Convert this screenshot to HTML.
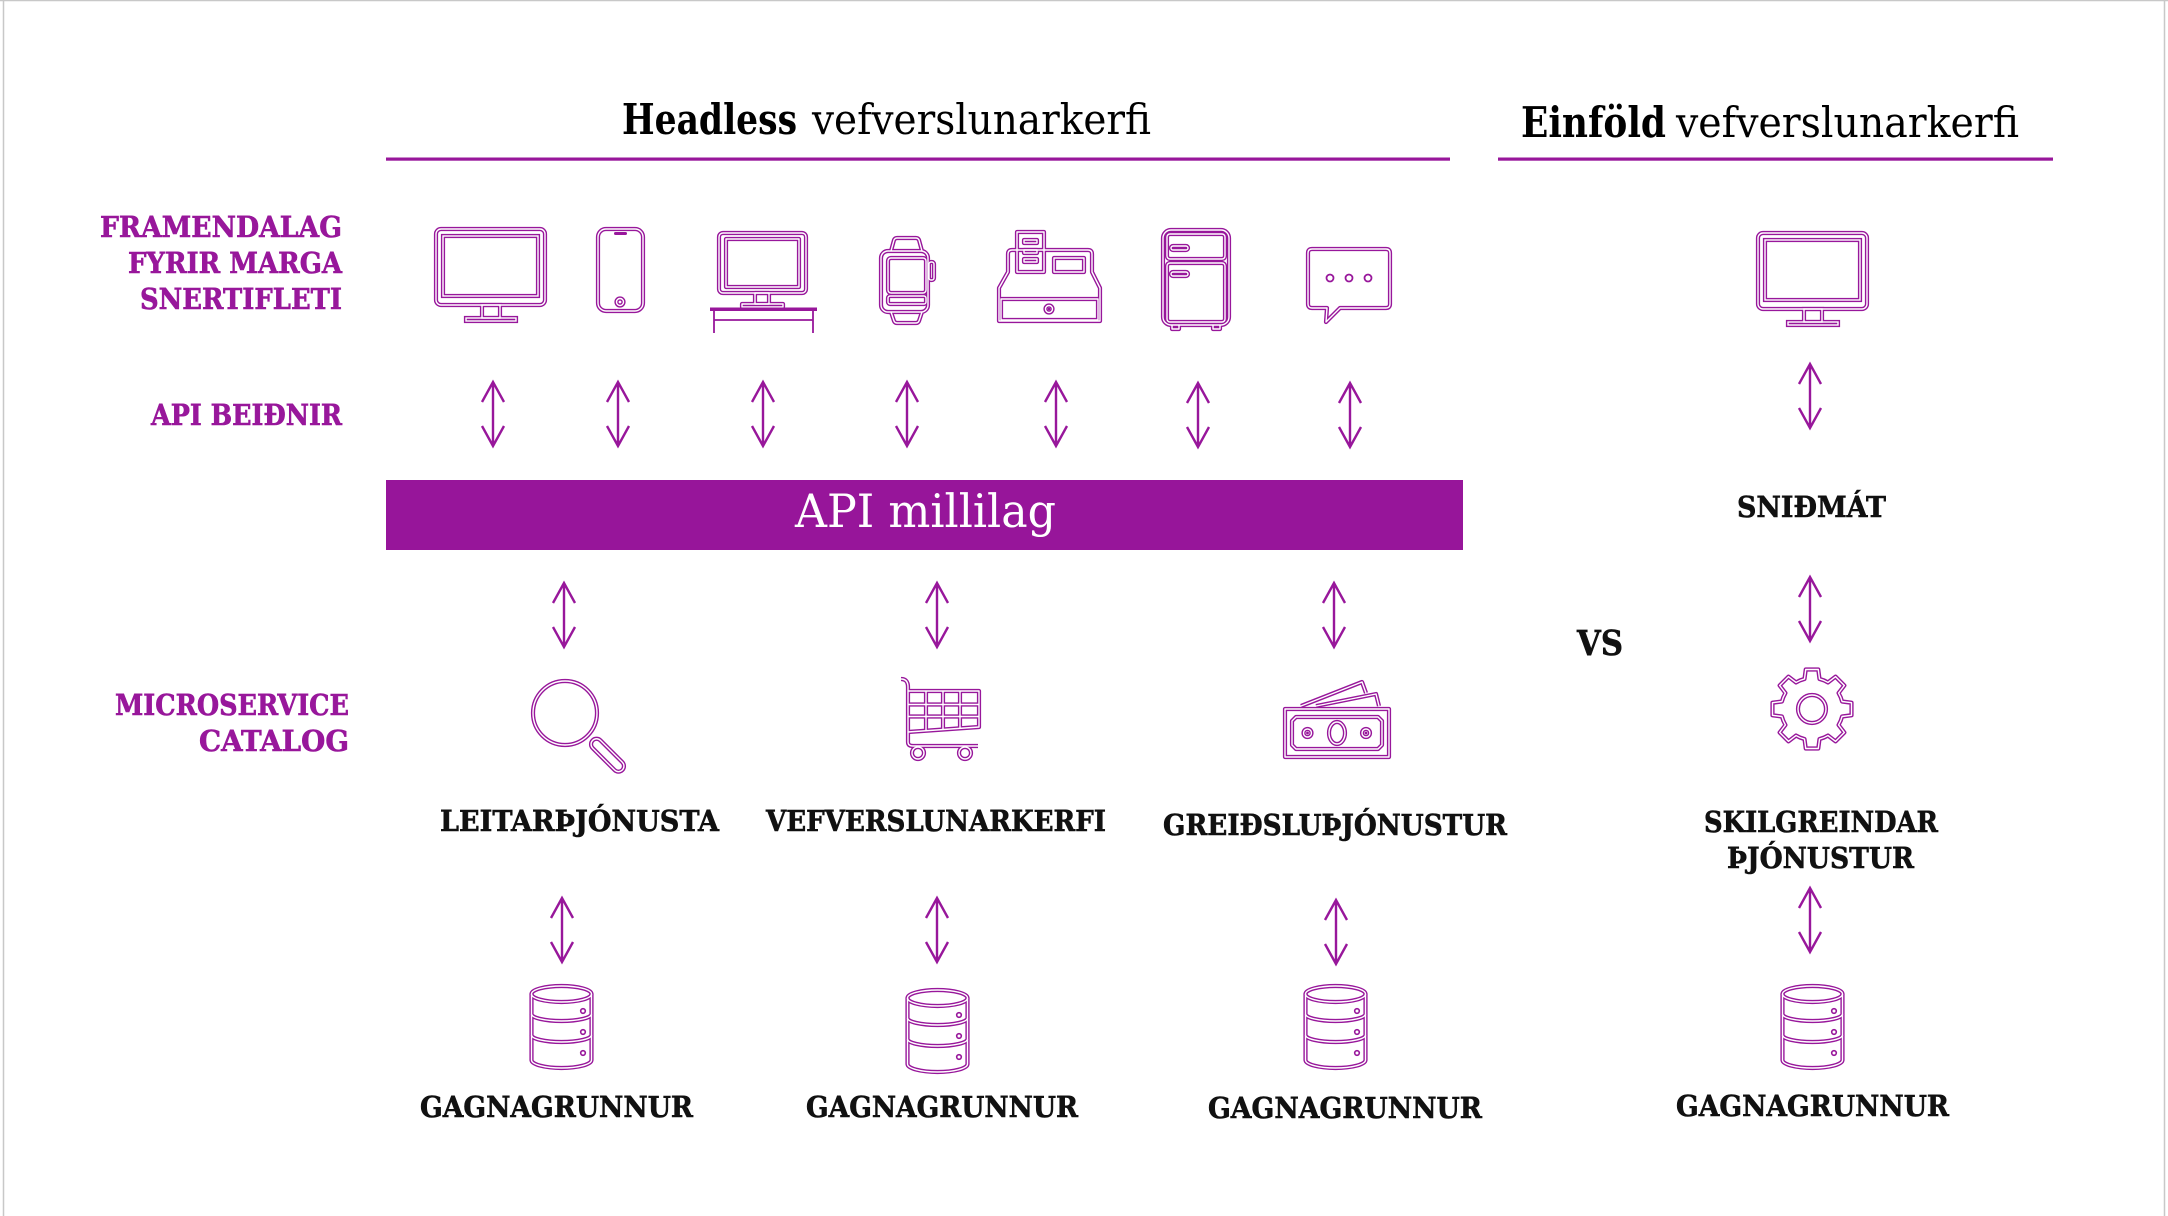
<!DOCTYPE html>
<html>
<head>
<meta charset="utf-8">
<style>
html,body{margin:0;padding:0;background:#fff;}
svg{display:block;}
.lbl{font-family:"DejaVu Serif","Liberation Serif",serif;font-weight:bold;}
.p{fill:#98179b;stroke:#98179b;stroke-width:0.6;}
.k{fill:#111;stroke:#111;stroke-width:0.6;}
</style>
</head>
<body>
<svg width="2168" height="1216" viewBox="0 0 2168 1216" xmlns="http://www.w3.org/2000/svg">
<defs>
  <g id="mon" fill="none">
    <rect x="2" y="2" width="109" height="76" rx="5"/>
    <rect x="9" y="9" width="95" height="60"/>
    <rect x="48" y="78" width="18" height="13"/>
    <rect x="32" y="91" width="50" height="3"/>
  </g>
  <g id="db" fill="none">
    <ellipse cx="31.5" cy="9" rx="30" ry="8"/>
    <path d="M1.5 9 L1.5 75 A30 8 0 0 0 61.5 75 L61.5 9"/>
    <path d="M1.5 29 A30 7 0 0 0 61.5 29"/>
    <path d="M1.5 50 A30 7 0 0 0 61.5 50"/>
  </g>
  <g id="icons1" fill="none">
    <rect x="598" y="229" width="45" height="82" rx="8"/>
    <circle cx="620" cy="302" r="3.5"/>
    <rect x="719" y="233" width="87" height="60" rx="4"/>
    <rect x="726" y="239" width="73" height="48"/>
    <rect x="755" y="293" width="14" height="11"/>
    <rect x="742" y="304" width="41" height="3"/>
    <rect x="881" y="251" width="47" height="61" rx="7"/>
    <rect x="888" y="258" width="38" height="35" rx="3"/>
    <rect x="888" y="296" width="38" height="8" rx="2"/>
    <path d="M891 251 L894 240 Q895 238 897 238 L916 238 Q918 238 919 240 L922 251"/>
    <path d="M891 312 L894 321 Q895 323 897 323 L916 323 Q918 323 919 321 L922 312"/>
    <rect x="929" y="262" width="5" height="18" rx="2"/>
    <path d="M999 321 L999 288 L1008 272 L1008 254 Q1008 250 1012 250 L1088 250 Q1092 250 1092 254 L1092 272 L1100 288 L1100 321 Z"/>
    <rect x="1001" y="299" width="97" height="21"/>
    <rect x="1017" y="232" width="27" height="40"/>
    <rect x="1024" y="240" width="13" height="3"/>
    <rect x="1024" y="250" width="13" height="3"/>
    <rect x="1024" y="259" width="13" height="3"/>
    <rect x="1054" y="258" width="30" height="14"/>
    <circle cx="1049" cy="309" r="3.5"/>
    <rect x="1163" y="230" width="66" height="95" rx="8"/>
    <rect x="1167" y="234" width="58" height="25" rx="3"/>
    <rect x="1167" y="263" width="58" height="59" rx="3"/>
    <rect x="1171" y="246" width="17" height="4" rx="2"/>
    <rect x="1171" y="272" width="17" height="4" rx="2"/>
    <path d="M1172 325 L1172 329 L1179 329 L1179 325"/>
    <path d="M1213 325 L1213 329 L1220 329 L1220 325"/>
    <path d="M1312 249 L1386 249 Q1390 249 1390 253 L1390 304 Q1390 308 1386 308 L1340 308 L1326 322 L1327 308 L1312 308 Q1308 308 1308 304 L1308 253 Q1308 249 1312 249 Z"/>
    <circle cx="565" cy="713" r="32"/>
    <rect x="587" y="749.5" width="42" height="11" rx="5.5" transform="rotate(45 607.5 754.5)"/>
    <path d="M901 679 Q908 679 908 687 L908 742 Q908 746 913 746 L978 746"/>
    <path d="M908 691 L979 691 L979 727 L908 732"/>
    <path d="M926 691 L926 731 M943 691 L943 730 M960 691 L960 729 M908 704.5 L979 704.5 M908 716.5 L979 716.5"/>
    <circle cx="918" cy="753" r="6"/>
    <circle cx="965" cy="753" r="6"/>
    <rect x="1285" y="709" width="104" height="48"/>
    <path d="M1296 717 L1378 717 L1382 721 L1382 745 L1378 749 L1296 749 L1292 745 L1292 721 Z"/>
    <ellipse cx="1337" cy="733" rx="8" ry="11"/>
    <circle cx="1307.5" cy="733" r="4"/>
    <circle cx="1366" cy="733" r="4"/>
    <path d="M1301 706 L1362 682 L1366 693"/>
    <path d="M1316 706 L1376 694 L1379 706"/>
    <path d="M1804.5 678.92 L1805.74 669.49 L1818.26 669.49 L1819.5 678.92 A31 31 0 0 1 1827.97 682.43 L1835.51 676.64 L1844.36 685.49 L1838.57 693.03 A31 31 0 0 1 1842.08 701.5 L1851.51 702.74 L1851.51 715.26 L1842.08 716.5 A31 31 0 0 1 1838.57 724.97 L1844.36 732.51 L1835.51 741.36 L1827.97 735.57 A31 31 0 0 1 1819.5 739.08 L1818.26 748.51 L1805.74 748.51 L1804.5 739.08 A31 31 0 0 1 1796.03 735.57 L1788.49 741.36 L1779.64 732.51 L1785.43 724.97 A31 31 0 0 1 1781.92 716.5 L1772.49 715.26 L1772.49 702.74 L1781.92 701.5 A31 31 0 0 1 1785.43 693.03 L1779.64 685.49 L1788.49 676.64 L1796.03 682.43 A31 31 0 0 1 1804.5 678.92 Z"/>
    <circle cx="1812" cy="709" r="14"/>
  </g>
  <g id="arr" fill="none">
    <path d="M0 0 L0 64 M-11 20 L0 0 L11 20 M-11 44 L0 64 L11 44"/>
  </g>
</defs>

<line x1="0" y1="0.5" x2="2168" y2="0.5" stroke="#c8c8c8" stroke-width="1.5"/>
<line x1="3.5" y1="0" x2="3.5" y2="1216" stroke="#c8c8c8" stroke-width="1.5"/>
<line x1="2164.5" y1="0" x2="2164.5" y2="1216" stroke="#c8c8c8" stroke-width="1.5"/>

<text x="622" y="134" font-family="DejaVu Serif, Liberation Serif, serif" font-weight="bold" font-size="42" fill="#000" textLength="175" lengthAdjust="spacingAndGlyphs">Headless</text>
<text x="812" y="134" font-family="DejaVu Serif, Liberation Serif, serif" font-size="42" fill="#000" textLength="339" lengthAdjust="spacingAndGlyphs">vefverslunarkerfi</text>
<text x="1521" y="137" font-family="DejaVu Serif, Liberation Serif, serif" font-weight="bold" font-size="42" fill="#000" textLength="145" lengthAdjust="spacingAndGlyphs">Einföld</text>
<text x="1676" y="137" font-family="DejaVu Serif, Liberation Serif, serif" font-size="42" fill="#000" textLength="343" lengthAdjust="spacingAndGlyphs">vefverslunarkerfi</text>

<rect x="386" y="157.5" width="1064" height="3.2" fill="#98179b"/>
<rect x="1498" y="157.5" width="555" height="3.2" fill="#98179b"/>

<g class="lbl p" font-size="29">
  <text x="100" y="237" textLength="242" lengthAdjust="spacingAndGlyphs">FRAMENDALAG</text>
  <text x="128" y="273" textLength="214" lengthAdjust="spacingAndGlyphs">FYRIR MARGA</text>
  <text x="140" y="309" textLength="202" lengthAdjust="spacingAndGlyphs">SNERTIFLETI</text>
  <text x="151" y="425" textLength="191" lengthAdjust="spacingAndGlyphs">API BEIÐNIR</text>
  <text x="115" y="715" textLength="234" lengthAdjust="spacingAndGlyphs">MICROSERVICE</text>
  <text x="199" y="751" textLength="150" lengthAdjust="spacingAndGlyphs">CATALOG</text>
</g>

<rect x="386" y="480" width="1077" height="70" fill="#97159a"/>
<text x="795" y="527" font-family="DejaVu Serif, Liberation Serif, serif" font-size="46" fill="#fff" textLength="261" lengthAdjust="spacingAndGlyphs">API millilag</text>

<use href="#mon" transform="translate(434,227)" stroke="#98179b" stroke-width="4.2"/>
<use href="#mon" transform="translate(434,227)" stroke="#fff" stroke-width="1.4"/>
<use href="#mon" transform="translate(1756,231)" stroke="#98179b" stroke-width="4.2"/>
<use href="#mon" transform="translate(1756,231)" stroke="#fff" stroke-width="1.4"/>
<use href="#icons1" stroke="#98179b" stroke-width="4.2" stroke-linejoin="round"/>
<use href="#icons1" stroke="#fff" stroke-width="1.4" stroke-linejoin="round"/>

<g fill="#98179b">
  <rect x="614" y="232" width="13" height="3" rx="1.5"/>
  <rect x="710" y="307.5" width="107" height="3.5"/>
  <circle cx="1049" cy="309" r="1.3"/>
  <circle cx="1307.5" cy="733" r="1.4"/>
  <circle cx="1366" cy="733" r="1.4"/>
</g>
<g fill="none" stroke="#98179b" stroke-width="1.8">
  <path d="M714 311 L714 333 M813 311 L813 333 M714 320 L813 320"/>
  <circle cx="1330" cy="278" r="3.5"/>
  <circle cx="1349" cy="278" r="3.5"/>
  <circle cx="1368" cy="278" r="3.5"/>
</g>

<use href="#db" transform="translate(530,985)" stroke="#98179b" stroke-width="4.2"/>
<use href="#db" transform="translate(530,985)" stroke="#fff" stroke-width="1.4"/>
<use href="#db" transform="translate(906,989)" stroke="#98179b" stroke-width="4.2"/>
<use href="#db" transform="translate(906,989)" stroke="#fff" stroke-width="1.4"/>
<use href="#db" transform="translate(1304,985)" stroke="#98179b" stroke-width="4.2"/>
<use href="#db" transform="translate(1304,985)" stroke="#fff" stroke-width="1.4"/>
<use href="#db" transform="translate(1781,985)" stroke="#98179b" stroke-width="4.2"/>
<use href="#db" transform="translate(1781,985)" stroke="#fff" stroke-width="1.4"/>
<g fill="none" stroke="#98179b" stroke-width="1.6">
  <circle cx="583" cy="1011" r="2.3"/><circle cx="583" cy="1032" r="2.3"/><circle cx="583" cy="1053" r="2.3"/>
  <circle cx="959" cy="1015" r="2.3"/><circle cx="959" cy="1036" r="2.3"/><circle cx="959" cy="1057" r="2.3"/>
  <circle cx="1357" cy="1011" r="2.3"/><circle cx="1357" cy="1032" r="2.3"/><circle cx="1357" cy="1053" r="2.3"/>
  <circle cx="1834" cy="1011" r="2.3"/><circle cx="1834" cy="1032" r="2.3"/><circle cx="1834" cy="1053" r="2.3"/>
</g>

<g stroke="#98179b" stroke-width="2.4" fill="none">
  <use href="#arr" transform="translate(493,382)"/>
  <use href="#arr" transform="translate(618,382)"/>
  <use href="#arr" transform="translate(763,382)"/>
  <use href="#arr" transform="translate(907,382)"/>
  <use href="#arr" transform="translate(1056,382)"/>
  <use href="#arr" transform="translate(1198,383)"/>
  <use href="#arr" transform="translate(1350,383)"/>
  <use href="#arr" transform="translate(1810,364)"/>
  <use href="#arr" transform="translate(564,583)"/>
  <use href="#arr" transform="translate(937,583)"/>
  <use href="#arr" transform="translate(1334,583)"/>
  <use href="#arr" transform="translate(1810,577)"/>
  <use href="#arr" transform="translate(562,898)"/>
  <use href="#arr" transform="translate(937,898)"/>
  <use href="#arr" transform="translate(1336,900)"/>
  <use href="#arr" transform="translate(1810,888)"/>
</g>

<g class="lbl k" font-size="29">
  <text x="1737" y="517" textLength="149" lengthAdjust="spacingAndGlyphs">SNIÐMÁT</text>
  <text x="1577" y="655" font-size="35" textLength="46" lengthAdjust="spacingAndGlyphs">VS</text>
  <text x="440" y="831" textLength="279" lengthAdjust="spacingAndGlyphs">LEITARÞJÓNUSTA</text>
  <text x="766" y="831" textLength="340" lengthAdjust="spacingAndGlyphs">VEFVERSLUNARKERFI</text>
  <text x="1163" y="835" textLength="344" lengthAdjust="spacingAndGlyphs">GREIÐSLUÞJÓNUSTUR</text>
  <text x="1704" y="832" textLength="234" lengthAdjust="spacingAndGlyphs">SKILGREINDAR</text>
  <text x="1727" y="868" textLength="187" lengthAdjust="spacingAndGlyphs">ÞJÓNUSTUR</text>
  <text x="420" y="1117" textLength="273" lengthAdjust="spacingAndGlyphs">GAGNAGRUNNUR</text>
  <text x="806" y="1117" textLength="272" lengthAdjust="spacingAndGlyphs">GAGNAGRUNNUR</text>
  <text x="1208" y="1118" textLength="274" lengthAdjust="spacingAndGlyphs">GAGNAGRUNNUR</text>
  <text x="1676" y="1116" textLength="273" lengthAdjust="spacingAndGlyphs">GAGNAGRUNNUR</text>
</g>
</svg>
</body>
</html>
